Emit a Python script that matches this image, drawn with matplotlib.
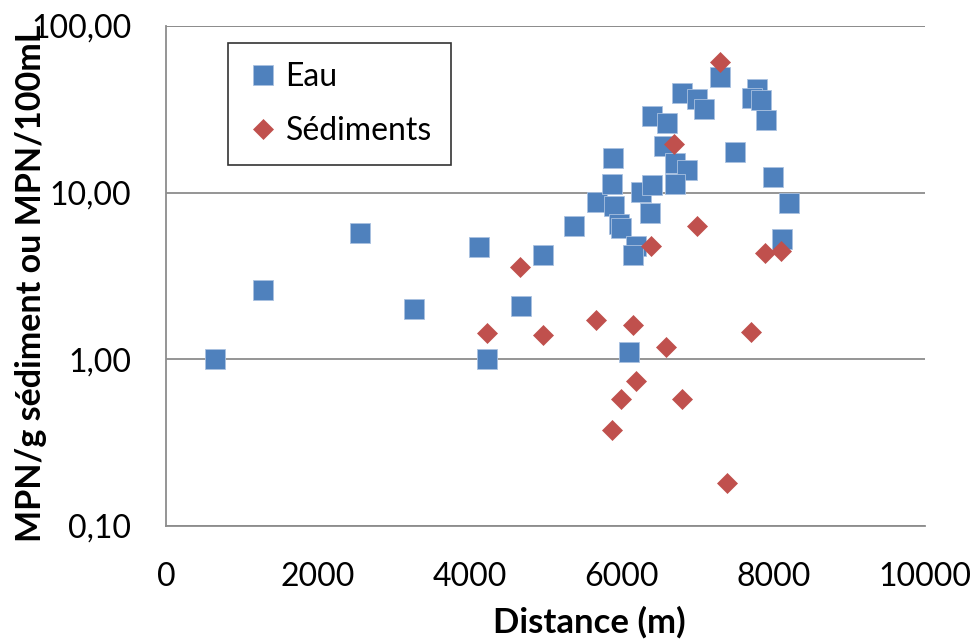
import numpy as np
import matplotlib.pyplot as plt
from matplotlib.ticker import FixedLocator, FixedFormatter, NullLocator

plt.rcParams['font.family'] = ['Lato', 'DejaVu Sans']

# Eau (carrés bleus)
eau_x = [650, 1280, 2550, 3270, 4130, 4225, 4673, 4971, 5375, 5674,
         5885, 5872, 5902, 5968, 5995, 6192, 6149, 6258, 6407, 6377,
         6399, 6596, 6561, 6706, 6860, 6706, 6794, 6992, 7088, 7299,
         7497, 7791, 7716, 7839, 7901, 8001, 8208, 8111, 6104]
eau_y = [1.0, 2.6, 5.7, 2.0, 4.75, 1.0, 2.1, 4.2, 6.3, 8.8,
         16.2, 11.2, 8.3, 6.5, 6.1, 4.8, 4.2, 10.1, 11.1, 7.5,
         28.7, 26.2, 19.0, 15.1, 13.7, 11.3, 39.8, 36.3, 31.6, 49.4,
         17.5, 42.1, 37.2, 35.8, 27.2, 12.4, 8.7, 5.3, 1.1]

# Sédiments (losanges rouges)
sed_x = [7299, 6697, 6992, 6390, 7895, 8106, 4668, 4225, 4971, 5661,
         6149, 6588, 7712, 6192, 5990, 6794, 5872, 7391]
sed_y = [60.8, 19.5, 6.3, 4.78, 4.34, 4.47, 3.58, 1.43, 1.39, 1.73,
         1.6, 1.19, 1.46, 0.745, 0.575, 0.581, 0.375, 0.181]

yticks = [0.1, 1, 10, 100]
ytick_labels = ['0,10', '1,00', '10,00', '100,00']
xticks = [0, 2000, 4000, 6000, 8000, 10000]

fig = plt.figure(figsize=(9.75, 6.4), dpi=100)
ax = fig.add_axes([166/975, 1 - 526/640, 759/975, 500/640])

ax.plot(eau_x, eau_y, 's', ms=14.2, color='#4F81BD', mec='#A9C1E0', mew=0.6,
        label='Eau', zorder=3)
ax.plot(sed_x, sed_y, 'D', ms=10.2, color='#C0504D', mec='#C0504D', mew=0.5,
        label='Sédiments', zorder=4)

ax.set_yscale('log')
ax.set_ylim(0.1, 100)
ax.set_xlim(0, 10000)
ax.yaxis.set_major_locator(FixedLocator(yticks))
ax.yaxis.set_major_formatter(FixedFormatter(ytick_labels))
ax.yaxis.set_minor_locator(NullLocator())
ax.set_xticks(xticks)
ax.tick_params(axis='both', length=0, labelsize=23)
ax.tick_params(axis='y', pad=25)
ax.tick_params(axis='x', pad=26)

ax.grid(axis='y', color='#8C8C8C', lw=1.3)
ax.axhline(100, color='#8C8C8C', lw=1.3, zorder=1)
for s in ['top', 'right']:
    ax.spines[s].set_visible(False)
for s in ['left', 'bottom']:
    ax.spines[s].set_color('#8C8C8C')
    ax.spines[s].set_linewidth(1.3)

leg = ax.legend(loc='upper left', bbox_to_anchor=((228-166)/759, (526-43)/500),
                borderaxespad=0, fontsize=23, frameon=True, fancybox=False,
                handletextpad=0.2, handlelength=1.0, labelspacing=0.75,
                borderpad=0.6, markerscale=1.0)
leg.get_frame().set_edgecolor('black')
leg.get_frame().set_linewidth(1.2)

fig.text(31/975, 1 - 283/640, 'MPN/g sédiment ou MPN/100mL', rotation=90,
         ha='center', va='center', fontsize=24.5, fontweight='bold')
fig.text(589/975, 1 - 622/640, 'Distance (m)', ha='center', va='center',
         fontsize=25, fontweight='bold')

fig.savefig('out.png', dpi=100)
